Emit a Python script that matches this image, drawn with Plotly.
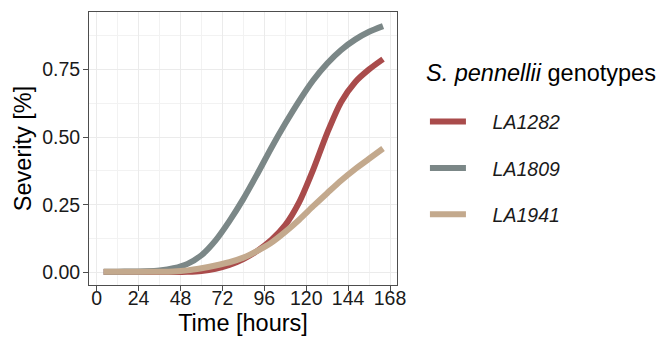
import plotly.graph_objects as go

hours = [4, 12, 20, 28, 36, 44, 52, 60, 68, 76, 84, 92, 100, 108, 116, 124, 132, 140, 148, 156, 164]

la1282 = [0.002, 0.002, 0.002, 0.002, 0.002, 0.002, 0.003, 0.006, 0.014, 0.028, 0.050, 0.080,
          0.120, 0.175, 0.260, 0.380, 0.515, 0.630, 0.703, 0.750, 0.788]
la1809 = [0.003, 0.003, 0.004, 0.005, 0.008, 0.016, 0.032, 0.064, 0.118, 0.190, 0.272, 0.364,
          0.460, 0.550, 0.634, 0.710, 0.772, 0.822, 0.860, 0.889, 0.910]
la1941 = [0.003, 0.003, 0.003, 0.003, 0.003, 0.004, 0.008, 0.016, 0.026, 0.038, 0.055, 0.080,
          0.110, 0.150, 0.195, 0.245, 0.293, 0.340, 0.382, 0.420, 0.458]

series_names = ["LA1282", "LA1809", "LA1941"]
series_values = [la1282, la1809, la1941]
series_colors = ["#A94B4B", "#7B8787", "#C3A98D"]

x_ticks = [0, 24, 48, 72, 96, 120, 144, 168]
x_minor = [12, 36, 60, 84, 108, 132, 156]
y_ticks = [0.0, 0.25, 0.5, 0.75]
y_minor = [0.125, 0.375, 0.625, 0.875]
y_ticklabels = ["0.00", "0.25", "0.50", "0.75"]

FONT = "Liberation Sans, Arial, sans-serif"
PAD = "\u00a0" * 4

fig = go.Figure()
for name, vals, col in zip(series_names, series_values, series_colors):
    fig.add_trace(go.Scatter(
        x=hours, y=vals, mode="lines", name=PAD + "<i>" + name + "</i>",
        line=dict(color=col, width=6, shape="spline", smoothing=0.8),
        legendgroup=name,
    ))

axis_common = dict(
    showgrid=True, gridcolor="#EBEBEB", gridwidth=1.1,
    showline=True, linecolor="#4D4D4D", linewidth=1, mirror=True,
    ticks="outside", ticklen=5, tickcolor="#4D4D4D", tickwidth=1,
    zeroline=False,
    tickfont=dict(family=FONT, size=19.5, color="#1A1A1A"),
)

fig.update_xaxes(
    range=[-4.4, 172], tickvals=x_ticks, ticktext=[str(t) for t in x_ticks],
    minor=dict(tickvals=x_minor, showgrid=True, gridcolor="#F2F2F2", gridwidth=0.6, ticks=""),
    ticklabelstandoff=-9,
    title=dict(text="Time [hours]", font=dict(family=FONT, size=23.5, color="#000000"), standoff=6),
    **axis_common,
)
fig.update_yaxes(
    range=[-0.046, 0.962], tickvals=y_ticks, ticktext=y_ticklabels,
    minor=dict(tickvals=y_minor, showgrid=True, gridcolor="#F2F2F2", gridwidth=0.6, ticks=""),
    ticklabelstandoff=-1,
    title=dict(text="Severity [%]", font=dict(family=FONT, size=23.5, color="#000000"), standoff=3),
    **axis_common,
)

fig.update_layout(
    width=665, height=338,
    margin=dict(l=89, r=268, t=12, b=53, autoexpand=False),
    paper_bgcolor="white", plot_bgcolor="white",
    font=dict(family=FONT, color="#000000"),
    showlegend=True,
    legend=dict(
        font=dict(family=FONT, size=19.5, color="#1A1A1A"),
        xref="container", yref="container",
        x=0.639, y=0.697, xanchor="left", yanchor="top",
        tracegroupgap=18, itemwidth=36,
        bgcolor="rgba(0,0,0,0)", borderwidth=0,
    ),
    annotations=[dict(
        text="<i>S. pennellii</i> genotypes", xref="paper", yref="paper",
        x=(424 - 89) / 308, y=(338 - 53 - 73) / 273, xanchor="left", yanchor="middle",
        showarrow=False, font=dict(family=FONT, size=23.5, color="#000000"),
    )],
)

fig.write_html("out.html")
